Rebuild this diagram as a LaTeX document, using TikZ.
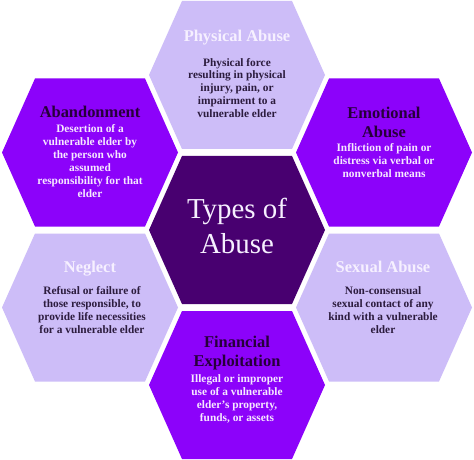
\documentclass[tikz,border=0pt]{standalone}
\usepackage{fontspec}
\setmainfont{Liberation Serif}
\definecolor{lightp}{RGB}{205,189,248}
\definecolor{violetp}{RGB}{140,2,250}
\definecolor{darkp}{RGB}{72,0,112}
\definecolor{lighttxt}{RGB}{246,240,255}
\definecolor{darktxt}{RGB}{44,28,62}
\definecolor{vtitle}{RGB}{38,0,58}
\definecolor{vbody}{RGB}{246,232,255}
\tikzset{
  ttl/.style={inner sep=0pt, align=center, font=\bfseries\fontsize{16.5}{19}\selectfont},
  bodytxt/.style={inner sep=0pt, align=center, font=\bfseries\fontsize{11.4}{13}\selectfont},
  hexcell/.style={fill=#1},
}
\newcommand\hexat[3]{\fill[hexcell=#3, shift={(#1,#2)}] (-88,0) -- (-55,-74) -- (55,-74) -- (88,0) -- (55,74) -- (-55,74) -- cycle;}
\begin{document}
\begin{tikzpicture}[x=1bp, y=-1bp]
\fill[white] (0,0) rectangle (474,460);
\useasboundingbox (0,0) rectangle (474,460);
% hexagons
\hexat{237}{75}{lightp}
\hexat{90}{152.5}{violetp}
\hexat{384}{152.5}{violetp}
\hexat{237}{230}{darkp}
\hexat{90}{307.5}{lightp}
\hexat{384}{307.5}{lightp}
\hexat{237}{385}{violetp}
% center
\node[inner sep=0pt, align=center, text=lighttxt, font=\fontsize{29}{35}\selectfont] (center) at (237,226) {Types of\\Abuse};
% physical
\node[ttl, text=lighttxt] (phyt) at (237,38) {Physical Abuse};
\node[bodytxt, text=darktxt] (phyb) at (237,88) {Physical force\\resulting in physical\\injury, pain, or\\impairment to a\\vulnerable elder};
% abandonment
\node[ttl, text=vtitle] (abat) at (90,112) {Abandonment};
\node[bodytxt, text=vbody] (abab) at (90,161) {Desertion of a\\vulnerable elder by\\the person who\\assumed\\responsibility for that\\elder};
% emotional
\node[ttl, text=vtitle] (emot) at (384,122) {Emotional\\Abuse};
\node[bodytxt, text=vbody] (emob) at (384,161) {Infliction of pain or\\distress via verbal or\\nonverbal means};
% neglect
\node[ttl, text=lighttxt] (negt) at (90,269) {Neglect};
\node[bodytxt, text=darktxt] (negb) at (92,310) {Refusal or failure of\\those responsible, to\\provide life necessities\\for a vulnerable elder};
% sexual
\node[ttl, text=lighttxt] (sext) at (383,267) {Sexual Abuse};
\node[bodytxt, text=darktxt] (sexb) at (383,310) {Non-consensual\\sexual contact of any\\kind with a vulnerable\\elder};
% financial
\node[ttl, text=vtitle] (fint) at (237,353) {Financial\\Exploitation};
\node[bodytxt, text=vbody] (finb) at (237,399) {Illegal or improper\\use of a vulnerable\\elder's property,\\funds, or assets};
\end{tikzpicture}
\end{document}
